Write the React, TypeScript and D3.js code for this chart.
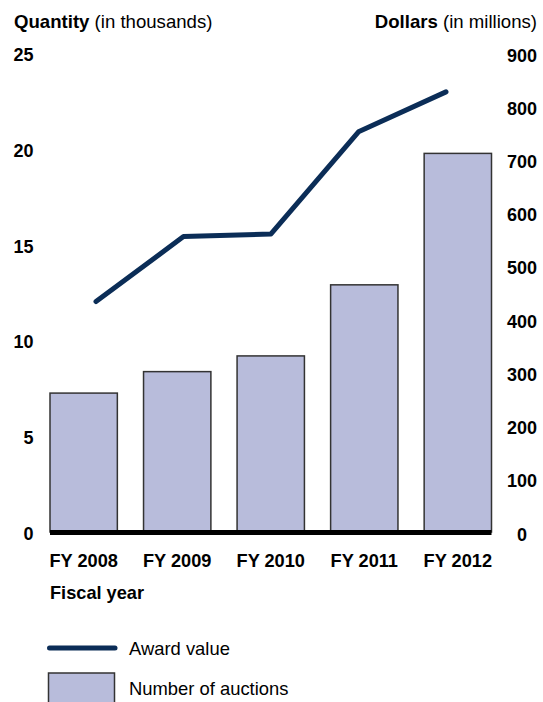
import React from "react";
import * as d3 from "d3";

const years = ["FY 2008", "FY 2009", "FY 2010", "FY 2011", "FY 2012"];
const auctions = [7.25, 8.37, 9.19, 12.9, 19.76]; // thousands
const awardValue = [433, 555, 560, 752, 827]; // millions of dollars
const leftTicks = [0, 5, 10, 15, 20, 25];
const rightTicks = [0, 100, 200, 300, 400, 500, 600, 700, 800, 900];

const W = 543;
const H = 702;
const FONT = "'Liberation Sans', Arial, Helvetica, sans-serif";
const BAR_FILL = "#b8bcdb";
const LINE_COLOR = "#0b2d57";

export default function App() {
  const x = d3.scaleBand<string>().domain(years).range([50, 491.5]).paddingInner(0.28).paddingOuter(0);
  const xLine = d3.scalePoint<string>().domain(years).range([96, 446]);
  const yL = d3.scaleLinear().domain([0, 25]).range([532, 53]);
  const yR = d3.scaleLinear().domain([0, 900]).range([532, 53]);

  const line = d3
    .line<number>()
    .x((_, i) => xLine(years[i]) as number)
    .y((d) => yR(d));

  return (
    <svg
      width={W}
      height={H}
      style={{ position: "absolute", left: 0, top: 0, background: "#fff" }}
      fontFamily={FONT}
    >
      <text x={14} y={28} fontSize={18.6} fill="#000">
        <tspan fontWeight="bold">Quantity</tspan>
        <tspan> (in thousands)</tspan>
      </text>
      <text x={537} y={28} fontSize={18.6} fill="#000" textAnchor="end">
        <tspan fontWeight="bold">Dollars</tspan>
        <tspan> (in millions)</tspan>
      </text>

      {leftTicks.map((t) => (
        <text key={"l" + t} x={33.5} y={yL(t) + 8} fontSize={18} fontWeight="bold" textAnchor="end">
          {t}
        </text>
      ))}
      {rightTicks.map((t) => (
        <text key={"r" + t} x={522} y={yR(t) + 8.5} fontSize={18} fontWeight="bold" textAnchor="middle">
          {t}
        </text>
      ))}

      {years.map((yr, i) => (
        <rect
          key={yr}
          x={x(yr)}
          y={yL(auctions[i])}
          width={x.bandwidth()}
          height={yL(0) - yL(auctions[i])}
          fill={BAR_FILL}
          stroke="#333"
          strokeWidth={1.5}
        />
      ))}
      <rect x={50} y={530} width={441.5} height={5} fill="#000" />

      <path
        d={line(awardValue) || ""}
        fill="none"
        stroke={LINE_COLOR}
        strokeWidth={5}
        strokeLinecap="round"
        strokeLinejoin="round"
      />

      {years.map((yr) => (
        <text
          key={"x" + yr}
          x={(x(yr) as number) + x.bandwidth() / 2}
          y={567}
          fontSize={18.2}
          fontWeight="bold"
          textAnchor="middle"
        >
          {yr}
        </text>
      ))}
      <text x={50} y={599} fontSize={18.2} fontWeight="bold">
        Fiscal year
      </text>

      <line x1={49.5} x2={115} y1={648} y2={648} stroke={LINE_COLOR} strokeWidth={5} strokeLinecap="round" />
      <text x={129} y={655} fontSize={18.4}>
        Award value
      </text>
      <rect x={48.5} y={673} width={66} height={40} fill={BAR_FILL} stroke="#333" strokeWidth={1.5} />
      <text x={129} y={695} fontSize={18.4}>
        Number of auctions
      </text>
    </svg>
  );
}
